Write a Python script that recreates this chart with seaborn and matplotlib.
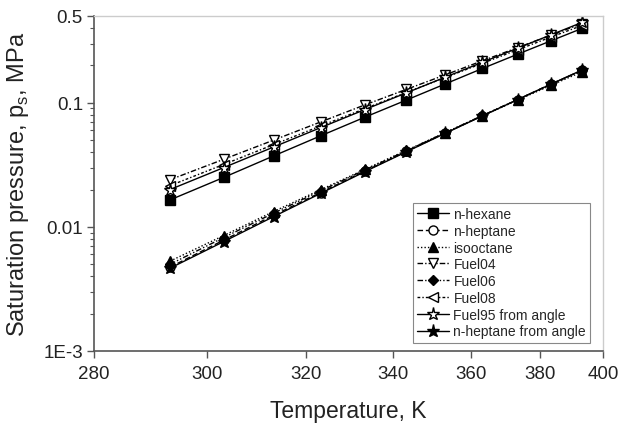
import numpy as np
import matplotlib
matplotlib.use("Agg")
import matplotlib.pyplot as plt
import seaborn as sns
from matplotlib.ticker import FixedLocator, FixedFormatter, LogLocator, NullFormatter

sns.set_style("white")
plt.rcParams['font.family'] = ['Liberation Sans', 'DejaVu Sans']

T = [293.15, 303.15, 313.15, 323.15, 333.15, 343.15, 353.15, 363.15, 373.15, 383.15, 393.15]

n_hexane = [0.0165, 0.0250, 0.0373, 0.0541, 0.0764, 0.105, 0.142, 0.189, 0.246, 0.315, 0.398]
n_heptane = [0.00474, 0.00781, 0.0124, 0.0189, 0.0281, 0.0405, 0.0571, 0.0786, 0.106, 0.141, 0.183]
isooctane = [0.0053, 0.0085, 0.0133, 0.0199, 0.0290, 0.0413, 0.0575, 0.0785, 0.105, 0.138, 0.178]
fuel04 = [0.0240, 0.0350, 0.0500, 0.0700, 0.0960, 0.128, 0.168, 0.218, 0.278, 0.350, 0.435]
fuel06 = [0.0050, 0.0082, 0.0129, 0.0195, 0.0287, 0.0410, 0.0575, 0.0790, 0.106, 0.141, 0.183]
fuel08 = [0.0215, 0.0318, 0.0460, 0.0650, 0.0895, 0.121, 0.160, 0.208, 0.267, 0.338, 0.420]
fuel95_angle = [0.0200, 0.0300, 0.0440, 0.0630, 0.0880, 0.120, 0.161, 0.212, 0.275, 0.352, 0.445]
n_heptane_angle = [0.00465, 0.0076, 0.0121, 0.0186, 0.0278, 0.0402, 0.0568, 0.0784, 0.106, 0.141, 0.184]

labels = ["n-hexane", "n-heptane", "isooctane", "Fuel04", "Fuel06", "Fuel08",
          "Fuel95 from angle", "n-heptane from angle"]
series = [n_hexane, n_heptane, isooctane, fuel04, fuel06, fuel08, fuel95_angle, n_heptane_angle]
markers = ["s", "o", "^", "v", "D", "<", "*", "*"]
faces = ["black", "white", "black", "white", "black", "white", "white", "black"]
sizes = [6.5, 6.5, 7, 7.5, 5.5, 7.5, 9.5, 9.5]
styles = ["-", (0, (4, 2)), (0, (1, 1.5)), (0, (4, 1.5, 1, 1.5)), (0, (4, 1.5, 1, 1.5, 1, 1.5)),
          (0, (2, 1.5, 1, 1.5)), "-", "-"]

fig = plt.figure(figsize=(6.19, 4.27), dpi=100)
ax = fig.add_axes([94/619, 1 - 352/427, (603-94)/619, (352-17)/427])

def fwd(x):
    x = np.asarray(x, dtype=float)
    with np.errstate(divide="ignore", invalid="ignore"):
        return -1.0 / x

def inv(y):
    y = np.asarray(y, dtype=float)
    with np.errstate(divide="ignore", invalid="ignore"):
        return -1.0 / y

for lab, vals, m, fc, ms, ls in zip(labels, series, markers, faces, sizes, styles):
    sns.lineplot(x=T, y=vals, ax=ax, color="black", marker=m, markersize=ms,
                 markerfacecolor=fc, markeredgecolor="black", markeredgewidth=1.0,
                 linestyle=ls, linewidth=1.0, label=lab)

ax.set_xscale("function", functions=(fwd, inv))
ax.set_yscale("log")
ax.set_xlim(280, 400)
ax.set_ylim(1e-3, 0.5)

ax.xaxis.set_major_locator(FixedLocator([280, 300, 320, 340, 360, 380, 400]))
ax.xaxis.set_major_formatter(FixedFormatter(["280", "300", "320", "340", "360", "380", "400"]))
ax.xaxis.set_minor_locator(FixedLocator([]))
ax.yaxis.set_major_locator(FixedLocator([1e-3, 0.01, 0.1, 0.5]))
ax.yaxis.set_major_formatter(FixedFormatter(["1E-3", "0.01", "0.1", "0.5"]))
ax.yaxis.set_minor_locator(LogLocator(base=10, subs=np.arange(2, 10) * 1.0, numticks=20))
ax.yaxis.set_minor_formatter(NullFormatter())

ax.tick_params(axis="both", which="major", direction="out", length=5, width=1,
               color="#555555", labelsize=13.5, labelcolor="#222222", bottom=True, left=True,
               pad=3)
ax.tick_params(axis="x", which="major", pad=5)
ax.tick_params(axis="y", which="minor", direction="out", length=3, width=0.8,
               color="#555555", left=True)

for s in ["left", "bottom"]:
    ax.spines[s].set_color("#555555")
    ax.spines[s].set_linewidth(1.2)
for s in ["top", "right"]:
    ax.spines[s].set_color("#cccccc")
    ax.spines[s].set_linewidth(1.0)

ax.set_xlabel("Temperature, K", fontsize=16.5, color="#222222", labelpad=12)
ax.set_ylabel("Saturation pressure, p$_\\mathregular{s}$, MPa", fontsize=17, color="#222222", labelpad=9)

leg = ax.legend(loc="lower right", bbox_to_anchor=(0.975, 0.025), fontsize=10, frameon=True,
                fancybox=False, edgecolor="#888888", framealpha=1, handlelength=2.3,
                handletextpad=0.3, labelspacing=0.2, borderpad=0.3, borderaxespad=0)
leg.get_frame().set_linewidth(0.8)

fig.savefig("out.png", dpi=100, facecolor="white")
